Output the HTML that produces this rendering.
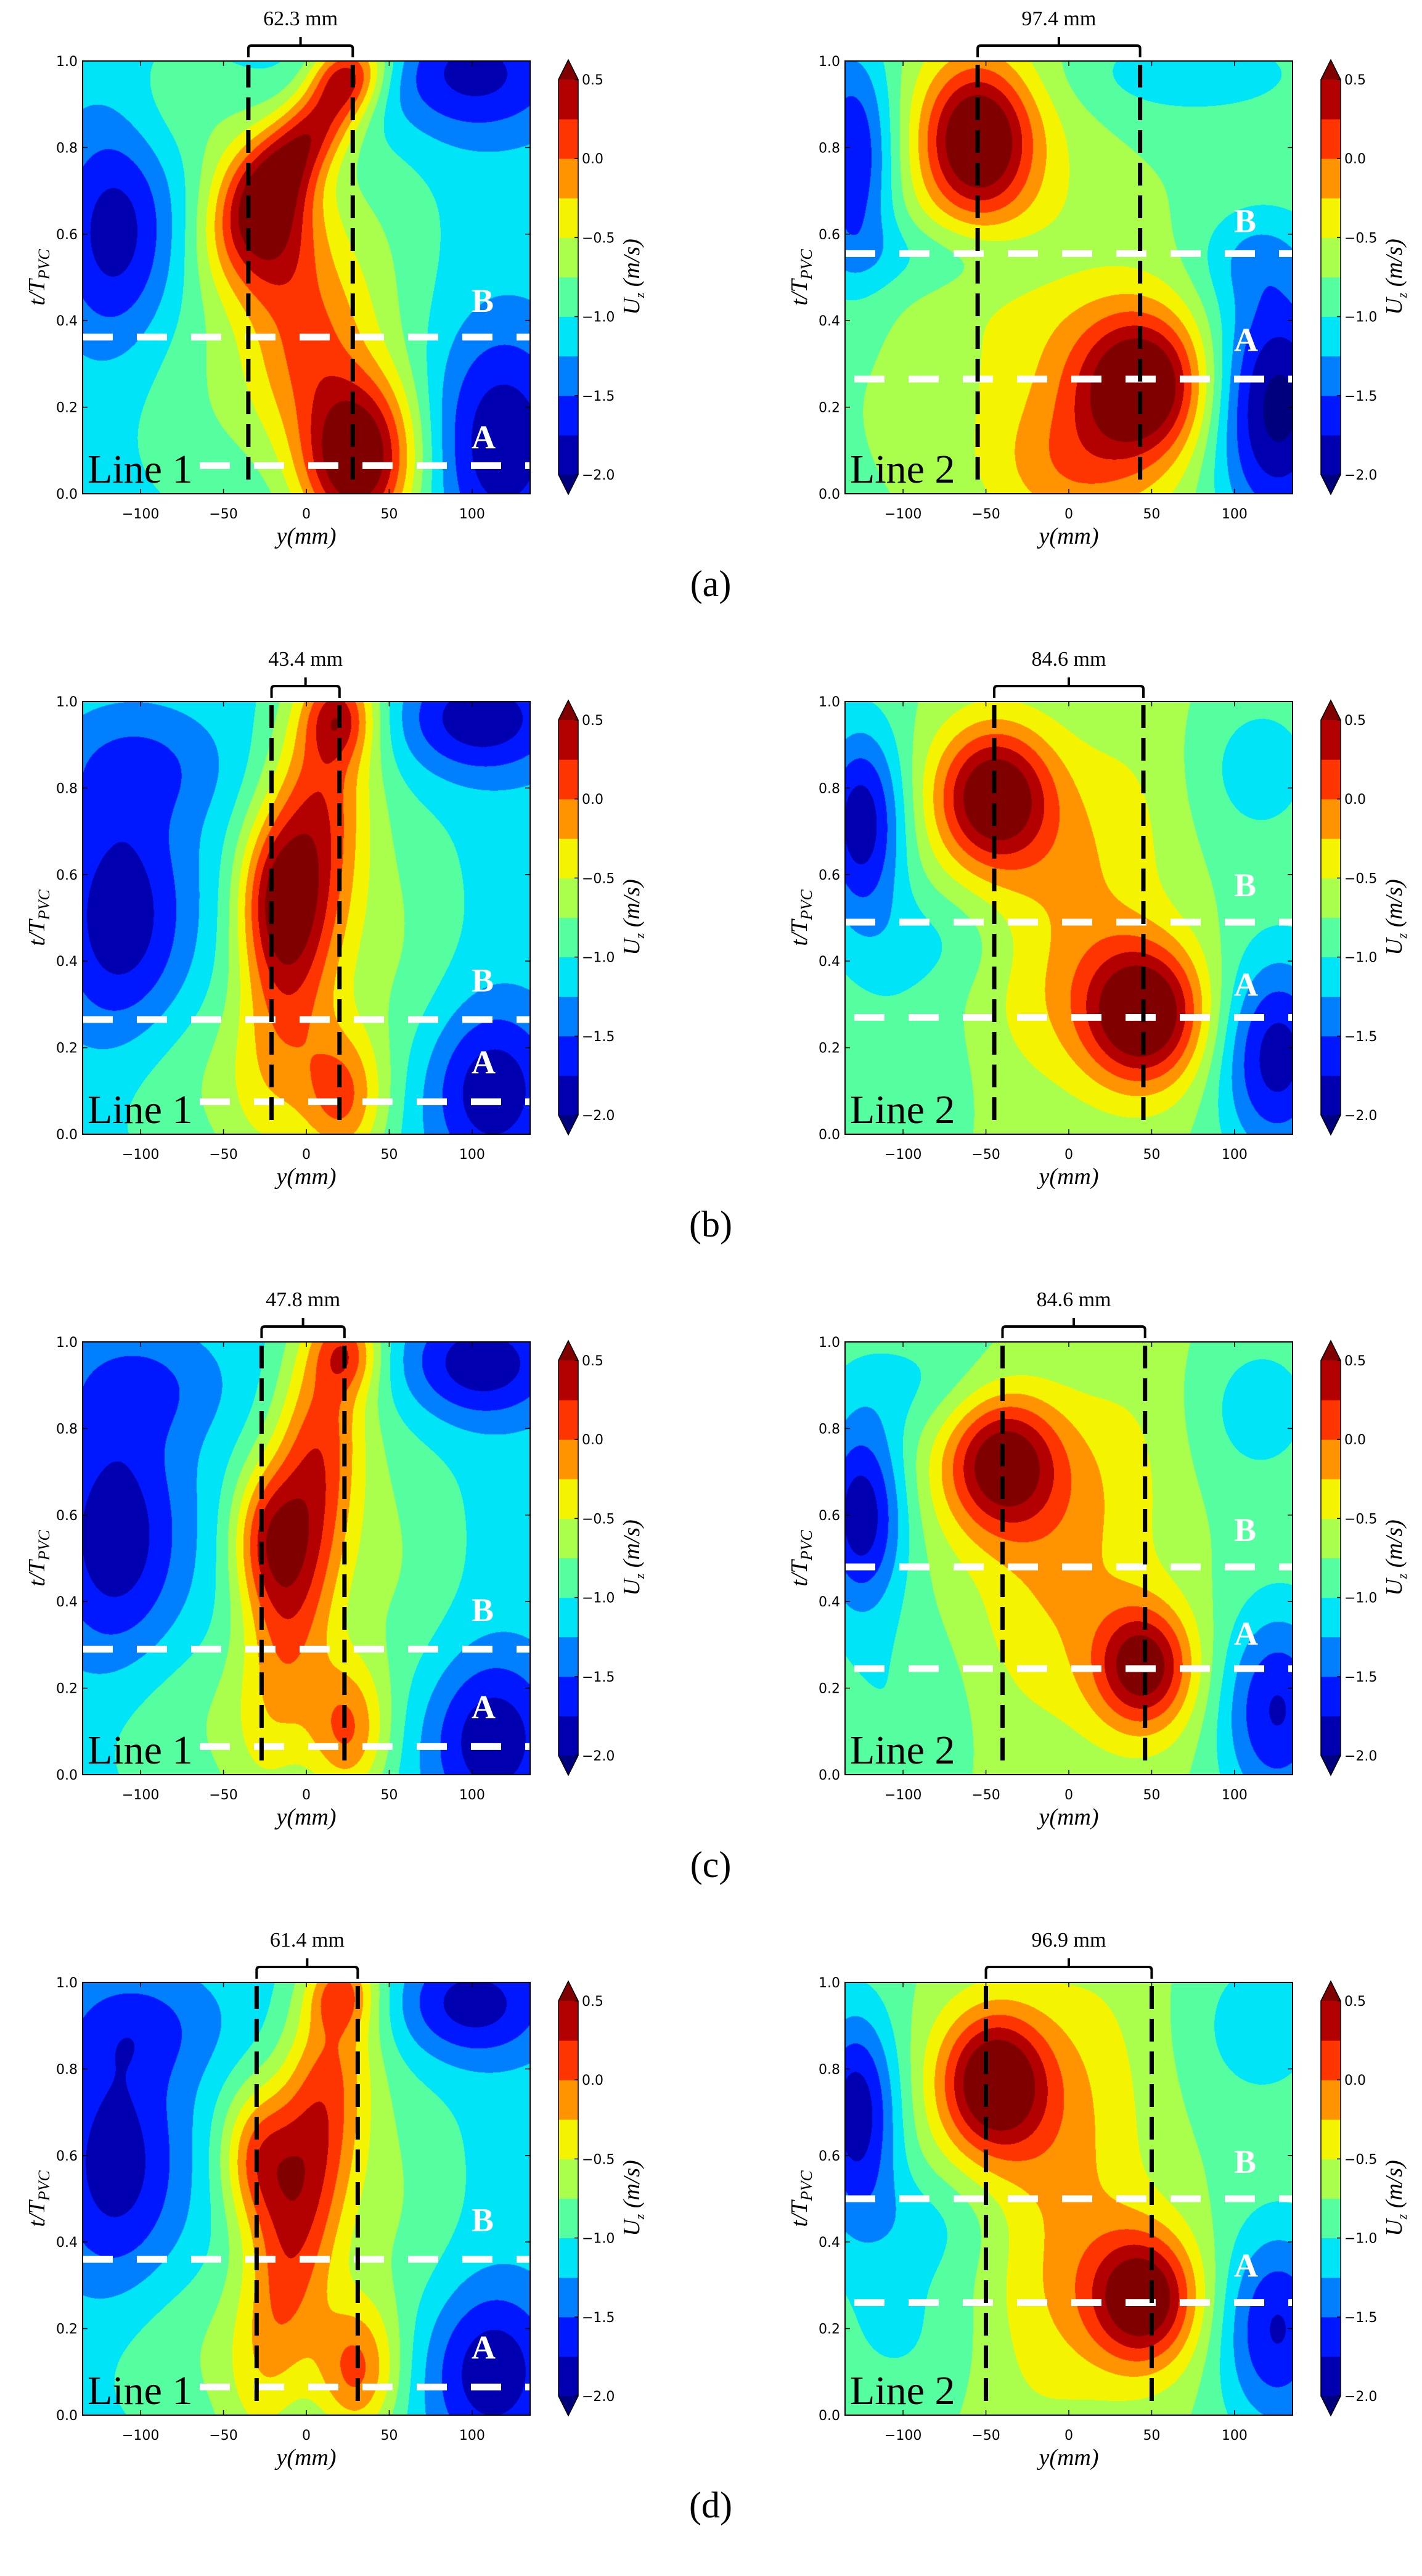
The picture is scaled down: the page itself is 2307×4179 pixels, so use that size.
<!DOCTYPE html>
<html><head><meta charset="utf-8">
<style>
html,body{margin:0;padding:0;background:#fff;}
#wrap{position:relative;width:2307px;height:4179px;overflow:hidden;background:#fff;}
canvas{position:absolute;}
svg{position:absolute;left:0;top:0;}
</style></head>
<body><div id="wrap"><svg id="ov" width="2307" height="4179" xmlns="http://www.w3.org/2000/svg"></svg></div>
<script>
var COLS=['#00007f','#0000b0','#0018ff','#0080ff','#00e4f8','#55ffa0','#aaff4d','#f5f400','#ff9400','#ff3500','#b30000','#800000'];
function rgb(h){return [parseInt(h.substr(1,2),16),parseInt(h.substr(3,2),16),parseInt(h.substr(5,2),16)];}
var RGB=COLS.map(rgb);
var P=[
{base:-1.1,g:[[1.6,-25,0.63,24,38,0],[1.25,8,0.86,15,45,-35],[0.6,22,0.97,14,14,0],[0.75,0,0.35,24,40,-15],[1.9,30,0.08,25,38,0],
[-0.8,-115,0.6,25,50,0],[-0.75,100,0.97,40,28,0],[-0.85,118,0.12,30,50,0],[0.3,-55,0.25,40,55,0],[0.3,40,0.5,30,80,0],[0.25,-80,0.9,25,30,0]],bl:[-35,28],B:0.362,A:0.065,Bt:0.42,At:0.105,txt:'62.3 mm',line:1},
{base:-0.8,g:[[1.35,-55,0.82,22,32,0],[0.45,-50,0.8,40,55,0],[1.35,45,0.25,26,30,0],[0.45,30,0.25,45,55,0],[0.45,0,0.05,35,30,0],[0.2,-30,0.3,60,70,0],
[-1.0,-130,0.78,18,50,0],[-0.35,-75,0.55,50,18,0],[-1.35,125,0.2,28,55,0],[-0.35,70,0.97,55,20,0],[-0.35,110,0.55,25,22,0]],bl:[-55,43],B:0.555,A:0.265,Bt:0.605,At:0.33,txt:'97.4 mm',line:2},
{base:-1.1,g:[[1.4,0,0.6,22,110,-8],[0.8,-20,0.55,16,35,0],[0.7,20,0.96,14,18,0],[1.0,22,0.08,18,32,0],
[-0.85,-112,0.5,28,55,0],[-0.4,-100,0.85,35,25,0],[-0.85,105,0.96,35,25,0],[-0.85,112,0.1,28,38,0],[0.35,50,0.45,30,70,0],[0.3,-70,0.12,40,40,0]],bl:[-21,20],B:0.265,A:0.075,Bt:0.33,At:0.14,txt:'43.4 mm',line:1},
{base:-0.8,g:[[1.4,-45,0.78,24,30,0],[1.5,45,0.28,25,30,0],[0.45,0,0.5,35,100,-25],[0.3,-40,0.75,40,50,0],[0.3,40,0.25,40,50,0],
[-1.15,-125,0.72,18,42,0],[-1.1,125,0.18,25,45,0],[-0.35,110,0.85,30,35,0],[-0.25,-90,0.15,40,40,0],[-0.3,-80,0.45,40,25,0]],bl:[-45,45],B:0.49,A:0.27,Bt:0.55,At:0.32,txt:'84.6 mm',line:2},
{base:-1.1,g:[[1.35,0,0.6,20,110,-8],[0.85,-25,0.55,15,32,0],[0.6,25,0.97,13,16,0],[1.0,25,0.1,17,32,0],
[-0.85,-115,0.55,28,55,0],[-0.4,-100,0.9,35,25,0],[-0.85,105,0.95,33,25,0],[-0.85,112,0.08,28,38,0],[0.35,50,0.5,30,70,0],[0.3,-70,0.12,40,40,0]],bl:[-27,23],B:0.29,A:0.065,Bt:0.355,At:0.13,txt:'47.8 mm',line:1},
{base:-0.8,g:[[1.3,-40,0.72,24,30,0],[1.25,45,0.25,20,26,0],[0.45,0,0.5,35,100,-25],[0.3,-40,0.72,40,50,0],[0.3,40,0.22,40,50,0],
[-1.15,-125,0.6,18,42,0],[-1.0,125,0.15,25,45,0],[-0.35,110,0.85,30,35,0],[-0.25,-90,0.15,40,40,0],[-0.3,-85,0.9,40,25,0]],bl:[-40,46],B:0.48,A:0.245,Bt:0.54,At:0.3,txt:'84.6 mm',line:2},
{base:-1.1,g:[[1.35,0,0.55,20,110,-10],[0.95,-30,0.6,16,32,0],[0.55,20,0.97,13,15,0],[1.05,30,0.1,18,32,0],
[-0.8,-115,0.58,28,55,0],[-0.4,-100,0.9,35,25,0],[-0.8,100,0.95,33,25,0],[-0.85,112,0.1,28,38,0],[0.35,50,0.5,30,70,0],[0.3,-70,0.15,40,40,0]],bl:[-30,31],B:0.36,A:0.065,Bt:0.425,At:0.13,txt:'61.4 mm',line:1},
{base:-0.8,g:[[1.4,-45,0.77,22,30,0],[1.35,45,0.27,22,28,0],[0.5,-5,0.5,35,110,-10],[0.3,-45,0.75,40,50,0],[0.3,40,0.25,40,50,0],
[-1.15,-128,0.7,18,45,0],[-1.0,125,0.2,25,45,0],[-0.35,115,0.9,30,35,0],[-0.25,-95,0.2,40,40,0],[-0.3,-85,0.45,40,25,0]],bl:[-50,50],B:0.5,A:0.26,Bt:0.56,At:0.32,txt:'96.9 mm',line:2}
];
var wrap=document.getElementById('wrap'),ov=document.getElementById('ov');
var W=726,H=702,s='';
function xp(L,v){return L+(v+135)/270*W;}
function yp(T,t){return T+H*(1-t);}
var TF="font-family:'DejaVu Sans','Liberation Sans',sans-serif;font-size:22px;";
var SF="font-family:'Liberation Serif',serif;";
P.forEach(function(p,i){
 var r=Math.floor(i/2),c=i%2,T=99+r*1039,L=c?1371:134;
 var cv=document.createElement('canvas');cv.width=W;cv.height=H;cv.style.left=L+'px';cv.style.top=T+'px';wrap.insertBefore(cv,ov);
 var ctx=cv.getContext('2d'),im=ctx.createImageData(W,H),d=im.data;
 var gs=p.g.map(function(g){var an=g[5]*Math.PI/180;return [g[0],g[1],g[2]*270,1/(2*g[3]*g[3]),1/(2*g[4]*g[4]),Math.cos(an),Math.sin(an)];});
 for(var py=0;py<H;py++){var y=(1-(py+0.5)/H)*270;
  for(var px=0;px<W;px++){var x=-135+(px+0.5)/W*270,v=p.base;
   for(var k=0;k<gs.length;k++){var g=gs[k],dx=x-g[1],dy=y-g[2],u=dx*g[5]+dy*g[6],w=-dx*g[6]+dy*g[5];v+=g[0]*Math.exp(-(u*u*g[3]+w*w*g[4]));}
   var idx=Math.floor((v+2)/0.25)+1;if(idx<0)idx=0;if(idx>11)idx=11;var cc=RGB[idx],o=(py*W+px)*4;
   d[o]=cc[0];d[o+1]=cc[1];d[o+2]=cc[2];d[o+3]=255;}}
 ctx.putImageData(im,0,0);
 s+='<clipPath id="cp'+i+'"><rect x="'+L+'" y="'+T+'" width="'+W+'" height="'+H+'"/></clipPath>';
 s+='<g clip-path="url(#cp'+i+')">';
 var wa=(p.line==1)?L+190:L+15;
 s+='<line x1="'+L+'" x2="'+(L+W)+'" y1="'+yp(T,p.B)+'" y2="'+yp(T,p.B)+'" stroke="#fff" stroke-width="11" stroke-dasharray="49 39"/>';
 s+='<line x1="'+wa+'" x2="'+(L+W)+'" y1="'+yp(T,p.A)+'" y2="'+yp(T,p.A)+'" stroke="#fff" stroke-width="11" stroke-dasharray="49 39"/>';
 p.bl.forEach(function(b){var X=xp(L,b);s+='<line x1="'+X+'" x2="'+X+'" y1="'+(T+6)+'" y2="'+(T+690)+'" stroke="#000" stroke-width="7" stroke-dasharray="37 16"/>';});
 s+='</g>';
 s+='<text x="'+(L+W-95)+'" y="'+yp(T,p.Bt)+'" style="'+SF+'font-size:54px;font-weight:bold;fill:#fff">B</text>';
 s+='<text x="'+(L+W-95)+'" y="'+yp(T,p.At)+'" style="'+SF+'font-size:54px;font-weight:bold;fill:#fff">A</text>';
 s+='<text x="'+(L+8)+'" y="'+(T+684)+'" style="'+SF+'font-size:66px;fill:#000">Line '+p.line+'</text>';
 s+='<rect x="'+L+'" y="'+T+'" width="'+W+'" height="'+H+'" fill="none" stroke="#000" stroke-width="2"/>';
 [-100,-50,0,50,100].forEach(function(v){var X=xp(L,v);
  s+='<line x1="'+X+'" x2="'+X+'" y1="'+(T+H)+'" y2="'+(T+H-8)+'" stroke="#000" stroke-width="1.5"/><line x1="'+X+'" x2="'+X+'" y1="'+T+'" y2="'+(T+8)+'" stroke="#000" stroke-width="1.5"/>';
  s+='<text x="'+X+'" y="'+(T+H+40)+'" text-anchor="middle" style="'+TF+'">'+(v<0?'\u2212'+(-v):v)+'</text>';});
 [0,0.2,0.4,0.6,0.8,1.0].forEach(function(t){var Y=yp(T,t);
  s+='<line x1="'+L+'" x2="'+(L+8)+'" y1="'+Y+'" y2="'+Y+'" stroke="#000" stroke-width="1.5"/><line x1="'+(L+W)+'" x2="'+(L+W-8)+'" y1="'+Y+'" y2="'+Y+'" stroke="#000" stroke-width="1.5"/>';
  s+='<text x="'+(L-8)+'" y="'+(Y+8)+'" text-anchor="end" style="'+TF+'">'+t.toFixed(1)+'</text>';});
 s+='<text x="'+(L+363)+'" y="'+(T+783)+'" text-anchor="middle" style="'+SF+'font-size:38px;font-style:italic">y(mm)</text>';
 s+='<text transform="translate('+(L-62)+','+(T+351)+') rotate(-90)" text-anchor="middle" style="'+SF+'font-size:38px;font-style:italic">t/T<tspan dy="8" font-size="26">PVC</tspan></text>';
 var x1=xp(L,p.bl[0]),x2=xp(L,p.bl[1]),xm=(x1+x2)/2;
 s+='<path d="M'+x1+' '+(T-6)+' V'+(T-20)+' Q'+x1+' '+(T-25)+' '+(x1+5)+' '+(T-25)+' H'+(x2-5)+' Q'+x2+' '+(T-25)+' '+x2+' '+(T-20)+' V'+(T-6)+' M'+xm+' '+(T-25)+' V'+(T-39)+'" fill="none" stroke="#000" stroke-width="4"/>';
 s+='<text x="'+xm+'" y="'+(T-58)+'" text-anchor="middle" style="'+SF+'font-size:34px">'+p.txt+'</text>';
 var cx=L+772,cw=32,ct=T+30,ch=641,bh=ch/10;
 for(var k=0;k<10;k++){s+='<rect x="'+cx+'" y="'+(ct+ch-(k+1)*bh)+'" width="'+cw+'" height="'+(bh+0.5)+'" fill="'+COLS[k+1]+'"/>';}
 s+='<polygon points="'+cx+','+ct+' '+(cx+cw)+','+ct+' '+(cx+cw/2)+','+(T-2)+'" fill="'+COLS[11]+'"/>';
 s+='<polygon points="'+cx+','+(ct+ch)+' '+(cx+cw)+','+(ct+ch)+' '+(cx+cw/2)+','+(T+703)+'" fill="'+COLS[0]+'"/>';
 s+='<polygon points="'+cx+','+ct+' '+(cx+cw/2)+','+(T-2)+' '+(cx+cw)+','+ct+' '+(cx+cw)+','+(ct+ch)+' '+(cx+cw/2)+','+(T+703)+' '+cx+','+(ct+ch)+'" fill="none" stroke="#000" stroke-width="1.5"/>';
 ['0.5','0.0','\u22120.5','\u22121.0','\u22121.5','\u22122.0'].forEach(function(l,k){var Y=ct+k*2*bh;
  s+='<line x1="'+(cx+cw)+'" x2="'+(cx+cw-6)+'" y1="'+Y+'" y2="'+Y+'" stroke="#000" stroke-width="1.5"/>';
  s+='<text x="'+(cx+cw+6)+'" y="'+(Y+8)+'" style="'+TF+'">'+l+'</text>';});
 s+='<text transform="translate('+(L+903)+','+(T+350)+') rotate(-90)" text-anchor="middle" style="'+SF+'font-size:38px;font-style:italic">U<tspan dy="8" font-size="22">z</tspan><tspan dy="-8"> (m/s)</tspan></text>';
 if(c==0){s+='<text x="1153" y="'+(T+868)+'" text-anchor="middle" style="'+SF+'font-size:60px">('+'abcd'[r]+')</text>';}
});
ov.innerHTML=s;
</script>
</body></html>
